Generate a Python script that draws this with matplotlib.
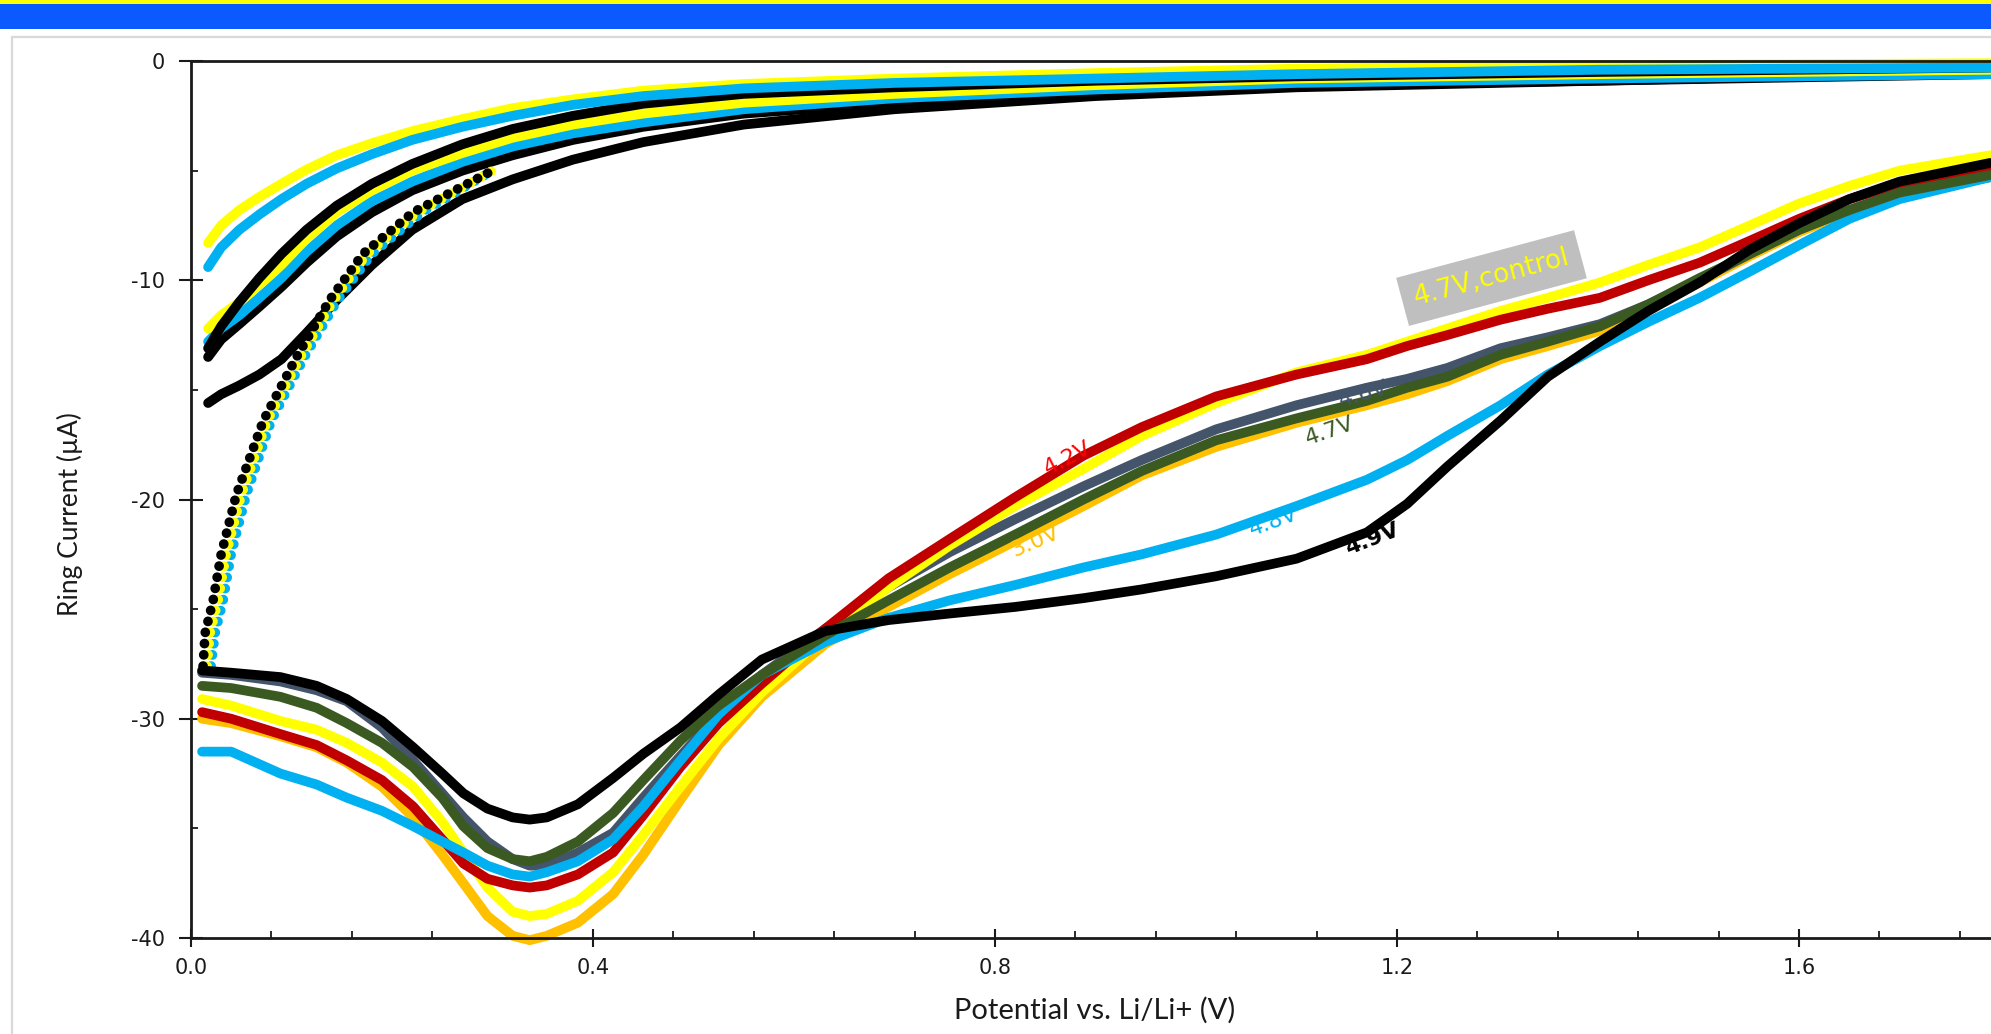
import matplotlib
matplotlib.use("Agg")
import matplotlib.pyplot as plt
from matplotlib.patches import Rectangle
from matplotlib.ticker import MultipleLocator, FormatStrFormatter

plt.rcParams['axes.unicode_minus'] = False

# ---------------- data ----------------
fwd_x = [0.011, 0.04, 0.089, 0.125, 0.155, 0.19, 0.221, 0.25, 0.271, 0.295,
         0.32, 0.337, 0.354, 0.385, 0.42, 0.45, 0.487, 0.525, 0.568, 0.631,
         0.694, 0.755, 0.82, 0.888, 0.946, 1.02, 1.1, 1.17, 1.21, 1.25,
         1.303, 1.35, 1.402, 1.45, 1.501, 1.551, 1.6, 1.65, 1.7, 1.79]

fwd_30 = [-30.0, -30.2, -30.8, -31.3, -32.0, -33.1, -34.5, -36.2, -37.5, -39.0,
          -39.9, -40.1, -39.9, -39.3, -38.0, -36.2, -33.7, -31.2, -29.0, -26.6,
          -24.9, -23.4, -21.9, -20.3, -18.9, -17.6, -16.5, -15.7, -15.2, -14.6,
          -13.6, -13.0, -12.3, -11.3, -10.1, -8.9, -7.8, -6.9, -6.1, -5.3]
fwd_46 = [-27.9, -28.0, -28.3, -28.7, -29.2, -30.4, -31.9, -33.4, -34.5, -35.6,
          -36.4, -36.7, -36.7, -36.1, -35.2, -33.6, -31.7, -29.8, -28.0, -25.9,
          -24.0, -22.4, -20.9, -19.4, -18.2, -16.8, -15.7, -14.9, -14.5, -14.0,
          -13.1, -12.6, -12.0, -11.1, -10.0, -8.8, -7.7, -6.8, -6.0, -5.3]
fwd_ctrl = [-29.1, -29.4, -30.1, -30.5, -31.1, -32.0, -33.1, -34.7, -36.1, -37.7,
            -38.8, -39.0, -38.9, -38.3, -37.0, -35.3, -33.1, -30.9, -28.8, -26.2,
            -24.0, -22.1, -20.3, -18.6, -17.1, -15.6, -14.2, -13.4, -12.8, -12.2,
            -11.4, -10.8, -10.1, -9.3, -8.5, -7.5, -6.5, -5.7, -5.0, -4.3]
fwd_42 = [-29.7, -30.0, -30.7, -31.2, -31.9, -32.8, -34.0, -35.5, -36.6, -37.3,
          -37.6, -37.7, -37.6, -37.1, -36.1, -34.4, -32.2, -30.2, -28.4, -25.9,
          -23.6, -21.8, -19.9, -18.0, -16.7, -15.3, -14.3, -13.6, -13.0, -12.5,
          -11.8, -11.3, -10.8, -10.0, -9.2, -8.2, -7.2, -6.3, -5.6, -5.0]
fwd_47 = [-28.5, -28.6, -29.0, -29.5, -30.2, -31.1, -32.2, -33.6, -34.9, -35.9,
          -36.4, -36.5, -36.3, -35.6, -34.3, -32.8, -31.0, -29.4, -28.0, -26.2,
          -24.6, -23.1, -21.6, -20.0, -18.7, -17.3, -16.3, -15.5, -14.9, -14.4,
          -13.4, -12.8, -12.1, -11.1, -9.9, -8.8, -7.7, -6.8, -6.0, -5.2]
fwd_48 = [-31.5, -31.5, -32.5, -33.0, -33.6, -34.2, -34.9, -35.6, -36.1, -36.7,
          -37.1, -37.2, -37.0, -36.5, -35.5, -34.0, -31.9, -29.8, -28.0, -26.5,
          -25.4, -24.6, -23.9, -23.1, -22.5, -21.6, -20.3, -19.1, -18.2, -17.1,
          -15.7, -14.3, -13.0, -11.9, -10.8, -9.6, -8.4, -7.2, -6.3, -5.3]
fwd_49 = [-27.8, -27.9, -28.1, -28.5, -29.1, -30.1, -31.3, -32.5, -33.4, -34.1,
          -34.5, -34.6, -34.5, -33.9, -32.7, -31.6, -30.4, -28.9, -27.3, -26.0,
          -25.5, -25.2, -24.9, -24.5, -24.1, -23.5, -22.7, -21.5, -20.2, -18.5,
          -16.4, -14.4, -12.8, -11.4, -10.1, -8.6, -7.4, -6.3, -5.5, -4.65]

rtn_x = [1.79, 1.4, 1.1, 0.9, 0.7, 0.55, 0.45, 0.38, 0.32, 0.27,
         0.22, 0.18, 0.145, 0.115, 0.09, 0.068, 0.048, 0.03, 0.017]
rtn_ctrl_a = [-0.1, -0.2, -0.35, -0.55, -0.8, -1.05, -1.35, -1.75, -2.15, -2.65,
              -3.2, -3.75, -4.3, -4.95, -5.6, -6.2, -6.8, -7.5, -8.3]
rtn_48_a = [-0.3, -0.4, -0.6, -0.8, -1.0, -1.25, -1.6, -2.0, -2.5, -3.0,
            -3.6, -4.25, -4.9, -5.6, -6.3, -7.0, -7.7, -8.5, -9.4]
rtn_49_a = [-0.3, -0.5, -0.7, -0.9, -1.2, -1.5, -1.95, -2.5, -3.1, -3.8,
            -4.7, -5.6, -6.6, -7.7, -8.8, -9.9, -11.0, -12.1, -13.1]
rtn_ctrl_b = [-0.4, -0.6, -0.8, -1.1, -1.5, -1.9, -2.4, -2.9, -3.5, -4.2,
              -5.0, -5.9, -6.9, -8.1, -9.3, -10.2, -11.0, -11.6, -12.2]
rtn_48_b = [-0.6, -0.8, -1.0, -1.3, -1.7, -2.2, -2.8, -3.3, -3.9, -4.6,
            -5.5, -6.4, -7.5, -8.7, -9.9, -10.8, -11.6, -12.2, -12.8]
rtn_49_b = [-0.6, -0.9, -1.1, -1.4, -1.9, -2.4, -3.0, -3.6, -4.3, -5.0,
            -5.9, -6.9, -8.0, -9.2, -10.3, -11.2, -12.0, -12.7, -13.5]
rtn_49_c = [-0.5, -0.9, -1.2, -1.6, -2.2, -2.9, -3.7, -4.5, -5.4, -6.3,
            -7.7, -9.3, -10.9, -12.4, -13.6, -14.3, -14.8, -15.2, -15.6]

steep_y = [-27.6, -26.1, -24.6, -22.5, -19.8, -16.4, -13.5, -10.9, -8.8, -6.9, -5.0]
steep_x_49 = [0.012, 0.014, 0.022, 0.030, 0.045, 0.072, 0.105, 0.138, 0.171, 0.221, 0.30]
steep_x_ctrl = [0.016, 0.019, 0.027, 0.035, 0.050, 0.076, 0.109, 0.142, 0.175, 0.225, 0.30]
steep_x_48 = [0.020, 0.024, 0.032, 0.040, 0.055, 0.080, 0.113, 0.146, 0.180, 0.230, 0.30]

label_text = ["4.2V", "3.0V", "4.6V", "4.7V", "4.8V", "4.9V", "4.7V,control"]
label_x = [0.872, 0.840, 1.167, 1.133, 1.077, 1.175, 1.294]
label_y = [-18.1, -21.9, -15.2, -16.9, -21.0, -21.8, -9.9]

x_ticks = [0.0, 0.4, 0.8, 1.2, 1.6]
y_ticks = [0, -10, -20, -30, -40]

# ---------------- styles ----------------
C_YEL = '#FFFF00'
C_CYAN = '#00B0F0'
C_BLK = '#000000'
C_RED = '#C00000'
C_SLATE = '#44546A'
C_GRN = '#3B5A22'
C_ORG = '#FFC000'
LW = 7.0

fig = plt.figure(figsize=(19.91, 10.34), dpi=100)
W, H = 1991.0, 1034.0

# banner and frame
fig.add_artist(Rectangle((0, 1 - 29 / H), 1, 25 / H, transform=fig.transFigure,
                         facecolor='#0A5AFF', edgecolor='none', zorder=0))
fig.add_artist(Rectangle((0, 1 - 4 / H), 1, 4 / H, transform=fig.transFigure,
                         facecolor=C_YEL, edgecolor='none', zorder=0))
fig.add_artist(Rectangle((12 / W, -0.1), 1.2, 1.1 - 37 / H, transform=fig.transFigure,
                         facecolor='none', edgecolor='#D9D9D9', lw=1.6, zorder=0))

ax = fig.add_axes([191 / W, 96 / H, (W - 191) / W, 877 / H])
ax.set_xlim(0, 1.791)
ax.set_ylim(-40, 0)

def line(x, y, c, z, ls='-'):
    if ls == 'dot':
        ax.plot(x, y, color=c, lw=LW, linestyle=(0, (0.01, 1.15)),
                dash_capstyle='round', zorder=z, clip_on=False)
    else:
        ax.plot(x, y, color=c, lw=LW, solid_capstyle='round',
                solid_joinstyle='round', zorder=z, clip_on=False)

# return sweeps
line(rtn_x, rtn_49_c, C_BLK, 2)
line(rtn_x, rtn_49_b, C_BLK, 2)
line(rtn_x, rtn_48_b, C_CYAN, 2.1)
line(rtn_x, rtn_ctrl_b, C_YEL, 2.2)
line(rtn_x, rtn_49_a, C_BLK, 2.3)
line(rtn_x, rtn_ctrl_a, C_YEL, 2.4)
line(rtn_x, rtn_48_a, C_CYAN, 2.5)

# steep (dotted) segments
line(steep_x_48, steep_y, C_CYAN, 2.6, 'dot')
line(steep_x_ctrl, steep_y, C_YEL, 2.7, 'dot')
line(steep_x_49, steep_y, C_BLK, 2.8, 'dot')

# forward sweeps
line(fwd_x, fwd_30, C_ORG, 3)
line(fwd_x, fwd_46, C_SLATE, 3.1)
line(fwd_x, fwd_ctrl, C_YEL, 3.2)
line(fwd_x, fwd_42, C_RED, 3.3)
line(fwd_x, fwd_48, C_CYAN, 3.4)
line(fwd_x, fwd_47, C_GRN, 3.5)
line(fwd_x, fwd_49, C_BLK, 3.6)

# labels
lab_cols = ['#FF0000', C_ORG, C_SLATE, C_GRN, C_CYAN, C_BLK, C_YEL]
lab_rot = [27, 23, 16, 19, 20, 21, 15]
for i, t in enumerate(label_text):
    kw = dict(color=lab_cols[i], rotation=lab_rot[i], rotation_mode='anchor',
              ha='center', va='center', fontsize=16, family='DejaVu Sans', zorder=6)
    if t == "4.9V":
        kw['fontweight'] = 'bold'
    if i == len(label_text) - 1:
        kw['fontsize'] = 19
        kw['bbox'] = dict(boxstyle='square,pad=0.45', facecolor='#BFBFBF', edgecolor='none')
    ax.text(label_x[i], label_y[i], t, **kw)

# axes styling
ax.spines['right'].set_visible(False)
for s in ['left', 'bottom', 'top']:
    ax.spines[s].set_linewidth(2.0)
    ax.spines[s].set_color('#1a1a1a')
    ax.spines[s].set_zorder(5)

ax.set_xticks(x_ticks)
ax.set_yticks(y_ticks)
ax.xaxis.set_minor_locator(MultipleLocator(0.08))
ax.yaxis.set_minor_locator(MultipleLocator(5))
ax.xaxis.set_major_formatter(FormatStrFormatter('%.1f'))
ax.yaxis.set_major_formatter(FormatStrFormatter('%d'))
ax.tick_params(axis='x', which='major', direction='inout', length=13, width=1.5,
               pad=8, labelsize=15, colors='#1a1a1a')
ax.tick_params(axis='y', which='major', direction='inout', length=17, width=1.5,
               pad=10, labelsize=15, colors='#1a1a1a')
ax.tick_params(which='minor', direction='in', length=5, width=1.3, colors='#1a1a1a')
ax.tick_params(top=False, right=False, which='both')

ax.set_ylabel('Ring Current (µA)', fontsize=19, family='Lato', color='#1a1a1a')
ax.set_xlabel('Potential vs. Li/Li+ (V)', fontsize=21, family='Lato', color='#1a1a1a')
ax.yaxis.set_label_coords(-0.067, 0.4835)
ax.xaxis.set_label_coords(0.502, -0.082)
ax.xaxis.label.set_va('center')
ax.yaxis.label.set_va('center')

fig.savefig('out.png', dpi=100)
